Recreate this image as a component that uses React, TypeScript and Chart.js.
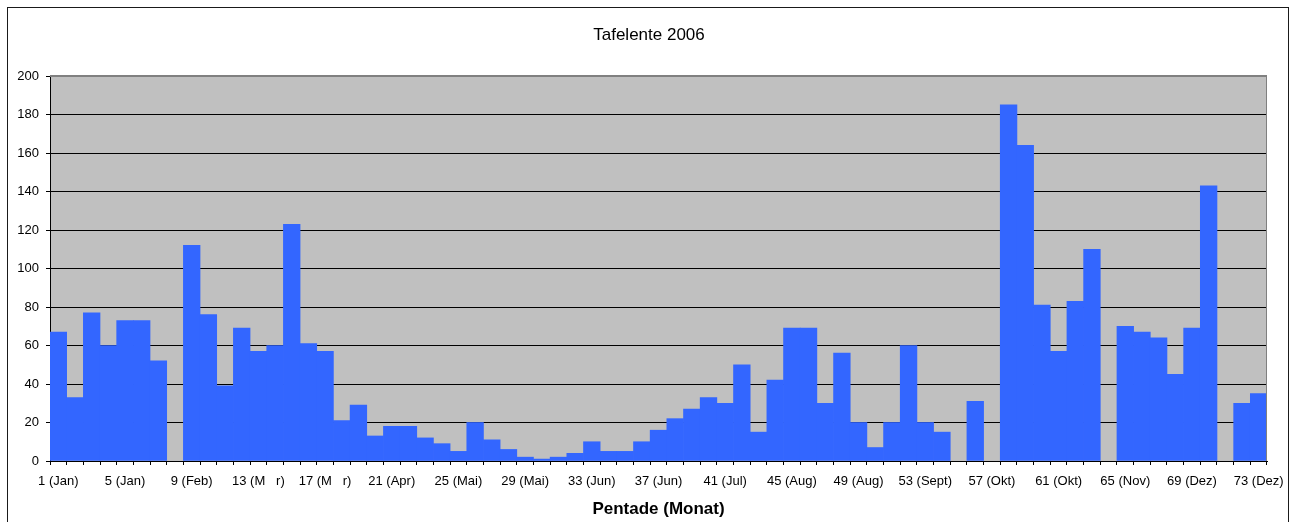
import React, { useEffect, useRef } from "react";
import { Chart, registerables } from "chart.js";

Chart.register(...registerables);

const chartTitle = "Tafelente 2006";
const xAxisTitle = "Pentade (Monat)";

const pentades = [
  1, 2, 3, 4, 5, 6, 7, 8, 9, 10, 11, 12, 13, 14, 15, 16, 17, 18, 19, 20,
  21, 22, 23, 24, 25, 26, 27, 28, 29, 30, 31, 32, 33, 34, 35, 36, 37, 38, 39, 40,
  41, 42, 43, 44, 45, 46, 47, 48, 49, 50, 51, 52, 53, 54, 55, 56, 57, 58, 59, 60,
  61, 62, 63, 64, 65, 66, 67, 68, 69, 70, 71, 72, 73,
];

const tickLabels = [
  "1 (Jan)", "5 (Jan)", "9 (Feb)", "13 (M   r)", "17 (M   r)", "21 (Apr)",
  "25 (Mai)", "29 (Mai)", "33 (Jun)", "37 (Jun)", "41 (Jul)", "45 (Aug)",
  "49 (Aug)", "53 (Sept)", "57 (Okt)", "61 (Okt)", "65 (Nov)", "69 (Dez)", "73 (Dez)",
];

const counts: (number | null)[] = [
  67, 33, 77, 60, 73, 73, 52, null, 112, 76,
  39, 69, 57, 60, 123, 61, 57, 21, 29, 13,
  18, 18, 12, 9, 5, 20, 11, 6, 2, 1,
  2, 4, 10, 5, 5, 10, 16, 22, 27, 33,
  30, 50, 15, 42, 69, 69, 30, 56, 20, 7,
  20, 60, 20, 15, null, 31, null, 185, 164, 81,
  57, 83, 110, null, 70, 67, 64, 45, 69, 143,
  null, 30, 35,
];

const yMin = 0;
const yMax = 200;
const yStep = 20;
const labelEvery = 4;

export default function App() {
  const ref = useRef<HTMLCanvasElement | null>(null);

  useEffect(() => {
    const canvas = ref.current;
    if (!canvas) return;
    const FONT = '"Liberation Sans", Arial, Helvetica, sans-serif';

    const framePlugin = {
      id: "frame",
      beforeDraw(chart: any) {
        const { ctx, chartArea: a } = chart;
        ctx.save();
        ctx.fillStyle = "#ffffff";
        ctx.fillRect(0, 0, chart.width, chart.height);
        ctx.fillStyle = "#c0c0c0";
        ctx.fillRect(a.left, a.top, a.right - a.left, a.bottom - a.top);
        ctx.restore();
      },
      afterDraw(chart: any) {
        const { ctx, chartArea: a } = chart;
        ctx.save();
        ctx.strokeStyle = "#808080";
        ctx.lineWidth = 2;
        ctx.beginPath();
        ctx.moveTo(a.left, a.top);
        ctx.lineTo(a.right, a.top);
        ctx.stroke();
        ctx.lineWidth = 1;
        ctx.beginPath();
        ctx.moveTo(a.right - 0.5, a.top);
        ctx.lineTo(a.right - 0.5, a.bottom);
        ctx.stroke();
        ctx.strokeStyle = "#1a1a1a";
        ctx.lineWidth = 1;
        ctx.strokeRect(7.5, 7.5, 1281, 600);
        ctx.fillStyle = "#000";
        ctx.textAlign = "center";
        ctx.textBaseline = "alphabetic";
        ctx.font = `17px ${FONT}`;
        ctx.fillText(chartTitle, 649, 40);
        ctx.font = `bold 17px ${FONT}`;
        ctx.fillText(xAxisTitle, (a.left + a.right) / 2, 514);
        ctx.restore();
      },
    };

    const chart = new Chart(canvas, {
      type: "bar",
      data: {
        labels: pentades,
        datasets: [
          {
            data: counts,
            backgroundColor: "#3366ff",
            borderWidth: 0,
            barPercentage: 1,
            categoryPercentage: 1,
          },
        ],
      },
      options: {
        responsive: false,
        animation: false,
        events: [],
        layout: { padding: { left: 0, top: 76, right: 28, bottom: 0 } },
        plugins: {
          legend: { display: false },
          title: { display: false },
          tooltip: { enabled: false },
        },
        scales: {
          x: {
            offset: true,
            grid: {
              offset: true,
              drawOnChartArea: false,
              drawTicks: true,
              tickLength: 4,
              color: "#000",
            },
            border: { display: true, color: "#000", width: 1 },
            ticks: {
              autoSkip: false,
              maxRotation: 0,
              minRotation: 0,
              padding: 9,
              color: "#000",
              font: { family: FONT, size: 13 },
              callback: (_v: any, i: number) =>
                i % labelEvery === 0 ? tickLabels[i / labelEvery] : "",
            },
            afterFit: (s: any) => {
              s.height = 61;
            },
          },
          y: {
            min: yMin,
            max: yMax,
            grid: {
              color: "#000",
              lineWidth: 1,
              drawTicks: true,
              tickLength: 4,
            },
            border: { display: true, color: "#000", width: 1 },
            ticks: {
              stepSize: yStep,
              padding: 7,
              color: "#000",
              font: { family: FONT, size: 13 },
            },
            afterFit: (s: any) => {
              s.width = 50;
            },
          },
        },
      },
      plugins: [framePlugin],
    });

    return () => chart.destroy();
  }, []);

  return (
    <div style={{ position: "absolute", left: 0, top: 0, width: 1295, height: 522 }}>
      <canvas
        ref={ref}
        width={1295}
        height={522}
        style={{ display: "block", width: 1295, height: 522 }}
      />
    </div>
  );
}
